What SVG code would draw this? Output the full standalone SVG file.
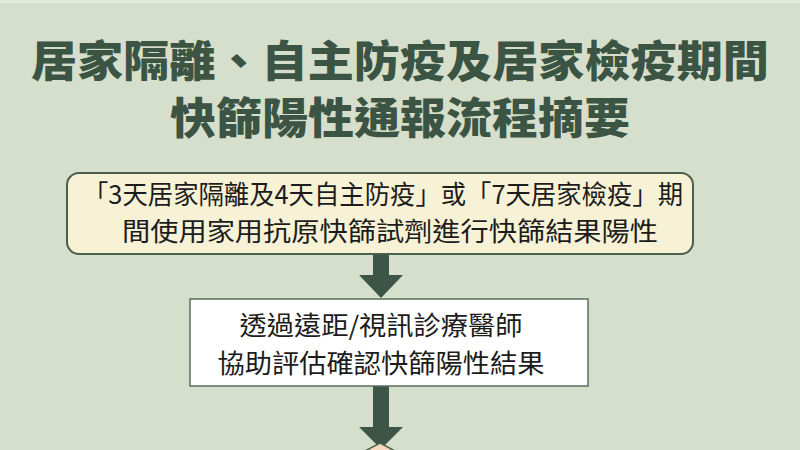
<svg xmlns="http://www.w3.org/2000/svg" width="800" height="450" viewBox="0 0 800 450">
<style>
.title{font-family:"Noto Sans CJK TC","Noto Sans CJK SC",sans-serif;font-weight:900;font-size:43px;fill:#3b5444;text-anchor:middle}
.body{font-family:"Noto Sans CJK TC","Noto Sans CJK SC",sans-serif;font-size:26px;fill:#1c1c1c;text-anchor:middle}
.arrow{fill:#3d5546}
</style>
<rect x="0" y="0" width="800" height="450" fill="#d6dfcb"/>
<rect x="0" y="0" width="800" height="3" fill="#e4ebdc"/>
<g id="title">
<text class="title" x="400" y="77" textLength="738" lengthAdjust="spacingAndGlyphs">居家隔離、自主防疫及居家檢疫期間</text>
<text class="title" x="400" y="134" textLength="460" lengthAdjust="spacingAndGlyphs">快篩陽性通報流程摘要</text>
</g>
<g id="connectors">
<polygon class="arrow" points="373,254 389,254 389,275 403,275 381,298 359,275 373,275"/>
<polygon class="arrow" points="373,386 389,386 389,427 403,427 381,449 359,427 373,427"/>
</g>
<g id="node-start">
<rect x="67" y="173" width="626" height="81" rx="12" ry="12" fill="#f7f1d6" stroke="#4b5f4d" stroke-width="2"/>
<text class="body" x="383" y="204" textLength="600" lengthAdjust="spacingAndGlyphs">「3天居家隔離及4天自主防疫」或「7天居家檢疫」期</text>
<text class="body" x="390" y="241" textLength="536" lengthAdjust="spacingAndGlyphs">間使用家用抗原快篩試劑進行快篩結果陽性</text>
</g>
<g id="node-confirm">
<rect x="190" y="299" width="398" height="87" fill="#ffffff" stroke="#5b6d5b" stroke-width="1.5"/>
<text class="body" x="381" y="335" textLength="283" lengthAdjust="spacingAndGlyphs">透過遠距/視訊診療醫師</text>
<text class="body" x="381" y="373" textLength="327" lengthAdjust="spacingAndGlyphs">協助評估確認快篩陽性結果</text>
</g>
<g id="node-decision">
<polygon points="380,443 600,560 380,680 160,560" fill="#f8d8bf" stroke="#4b5f4d" stroke-width="1.5"/>
</g>
</svg>
